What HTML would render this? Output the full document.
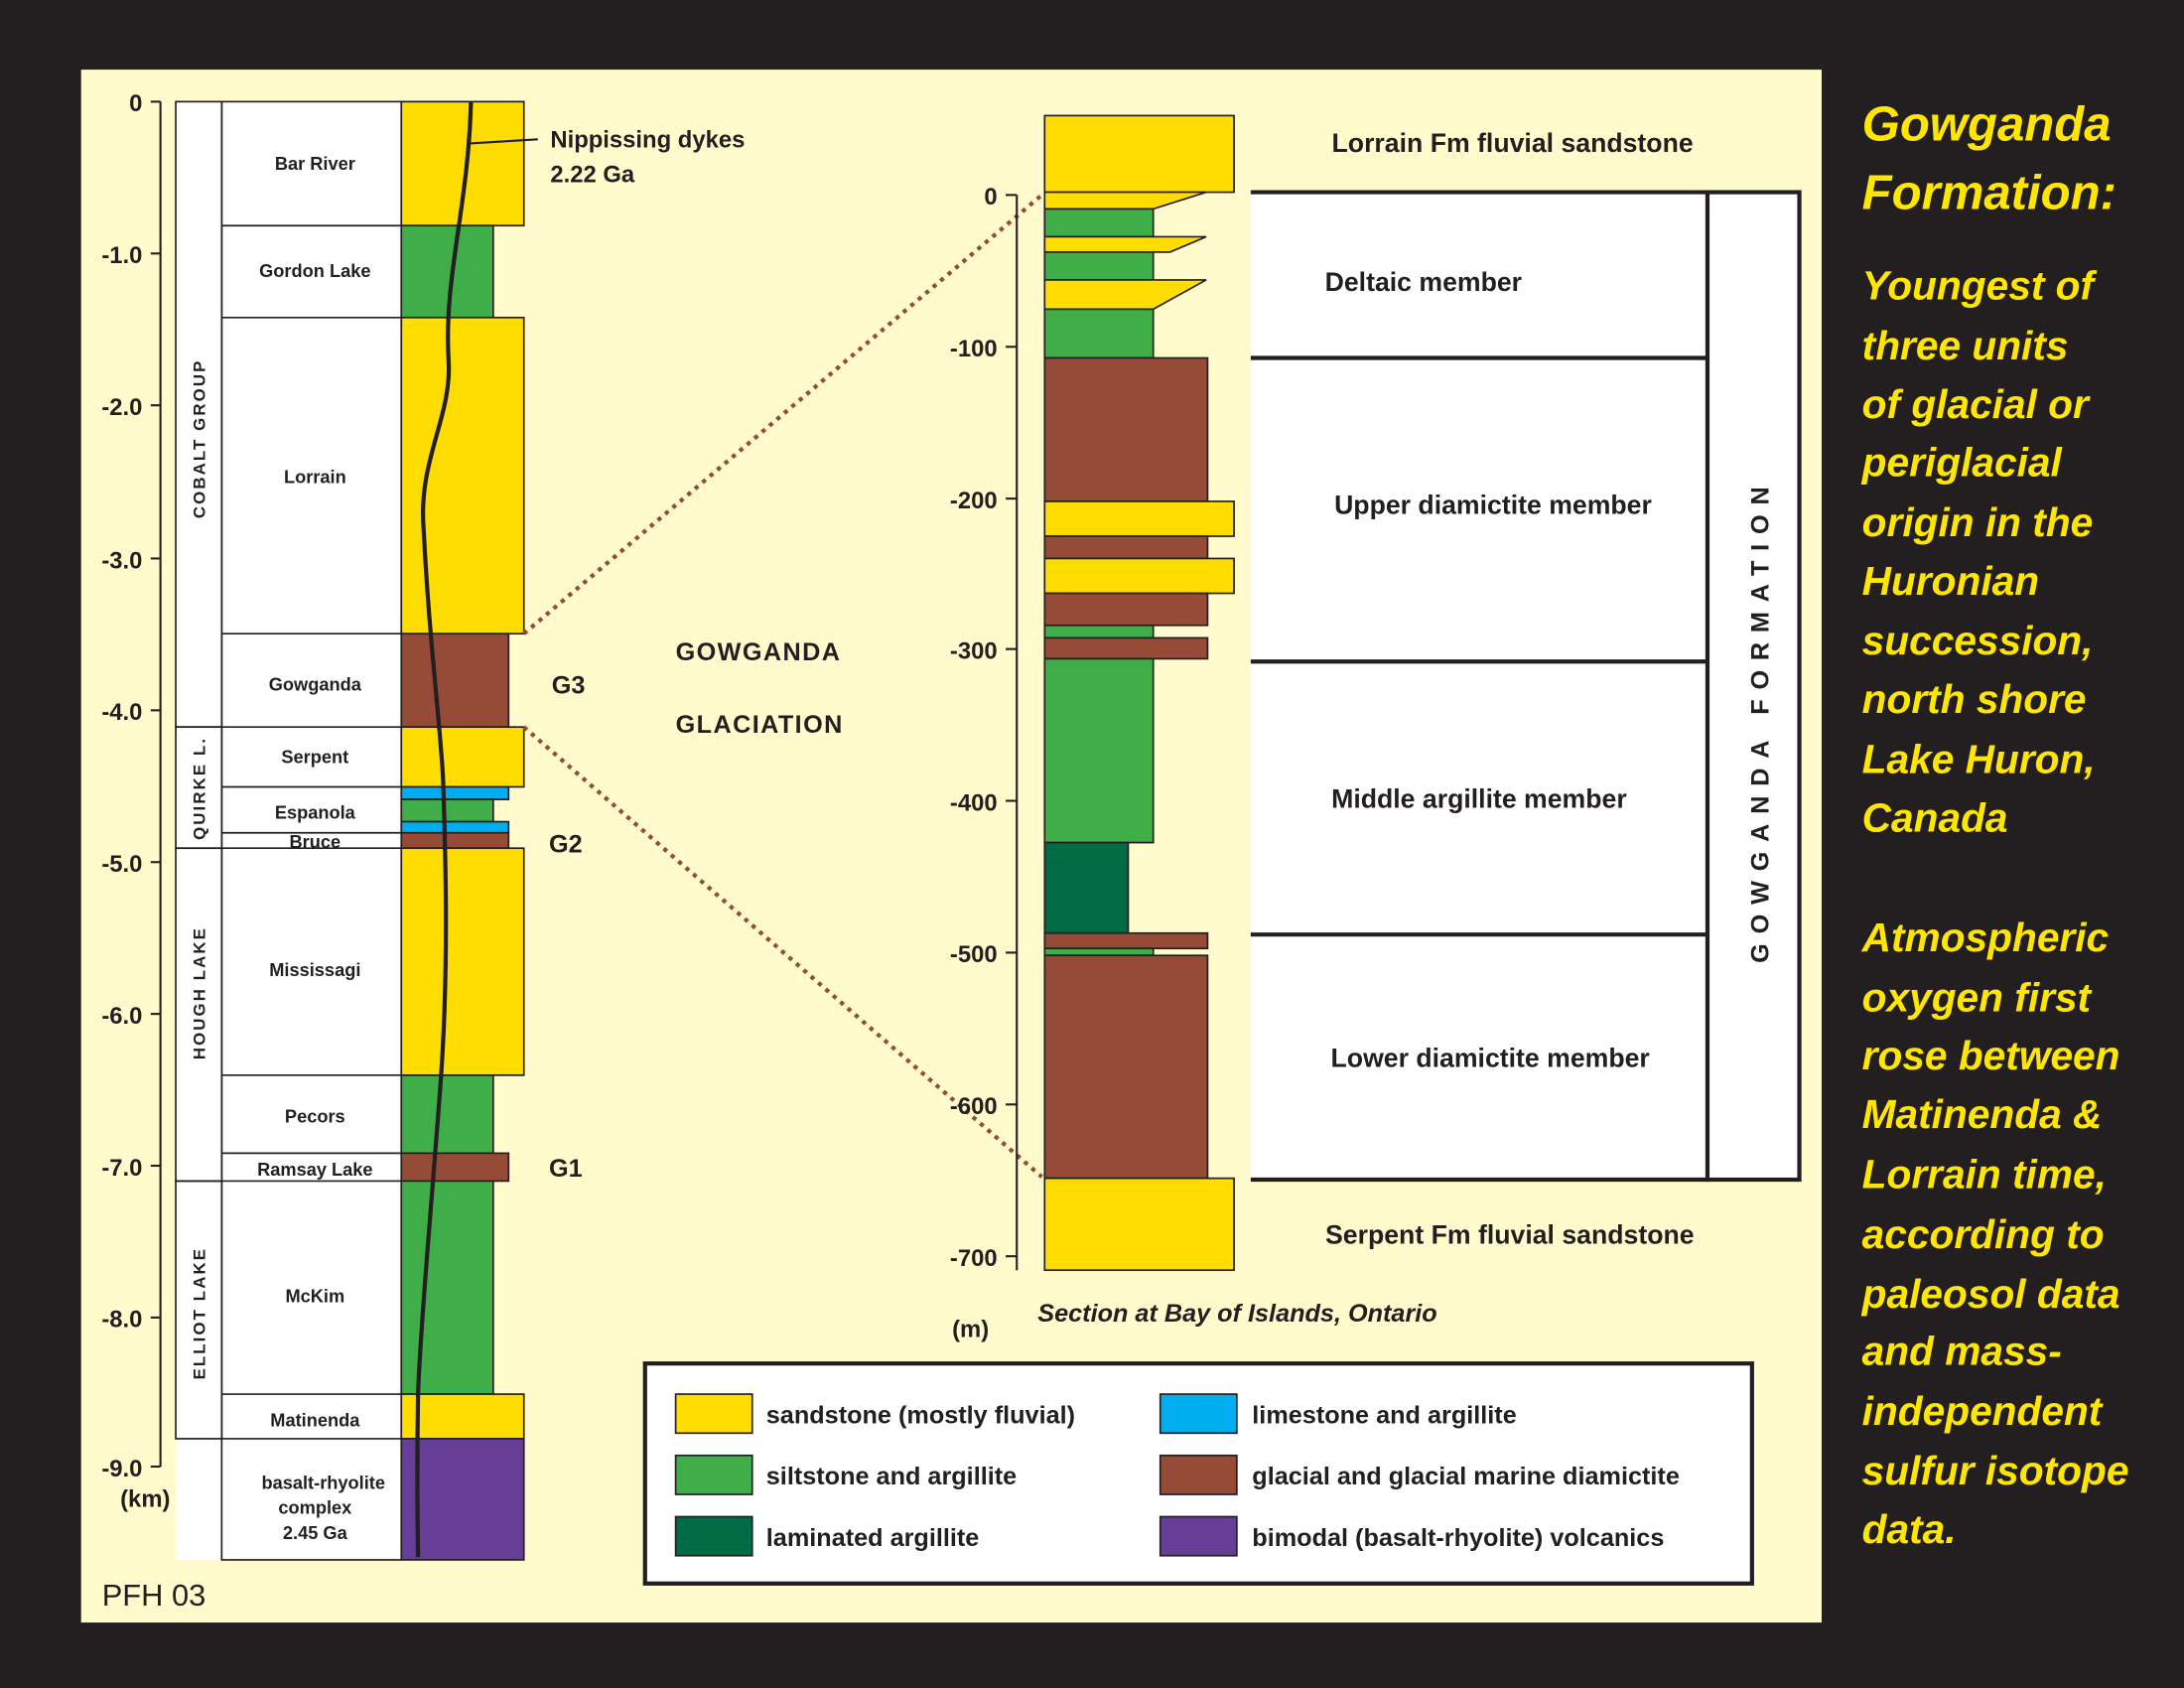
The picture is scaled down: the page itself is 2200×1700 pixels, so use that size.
<!DOCTYPE html>
<html><head><meta charset="utf-8"><style>
html,body{margin:0;padding:0;background:#231f20;}
svg{display:block;}
text{font-family:"Liberation Sans",sans-serif;font-weight:bold;fill:#231f20;}
.lbl{font-size:13px;text-anchor:middle;}
.ax{font-size:17px;text-anchor:end;}
.y{fill:#ffe600;font-style:italic;font-size:29px;}
.t{fill:#ffe600;font-style:italic;font-size:35px;font-weight:900;}
.m{font-size:19px;text-anchor:middle;}
</style></head><body>
<svg width="2200" height="1700" viewBox="0 0 1568 1212" xmlns="http://www.w3.org/2000/svg">
<rect width="1568" height="1212" fill="#231f20"/>
<rect x="58" y="50" width="1250" height="1115" fill="#fffbcc"/>

<g stroke="#231f20" stroke-width="1.5">
<line x1="115" y1="73" x2="115" y2="1053"/>
<line x1="108" y1="73" x2="115" y2="73"/><line x1="108" y1="182" x2="115" y2="182"/>
<line x1="108" y1="291" x2="115" y2="291"/><line x1="108" y1="401" x2="115" y2="401"/>
<line x1="108" y1="510" x2="115" y2="510"/><line x1="108" y1="619" x2="115" y2="619"/>
<line x1="108" y1="728" x2="115" y2="728"/><line x1="108" y1="837" x2="115" y2="837"/>
<line x1="108" y1="946" x2="115" y2="946"/><line x1="108" y1="1053" x2="115" y2="1053"/>
</g>
<text x="102" y="80" class="ax">0</text><text x="102" y="189" class="ax">-1.0</text>
<text x="102" y="298" class="ax">-2.0</text><text x="102" y="408" class="ax">-3.0</text>
<text x="102" y="517" class="ax">-4.0</text><text x="102" y="626" class="ax">-5.0</text>
<text x="102" y="735" class="ax">-6.0</text><text x="102" y="844" class="ax">-7.0</text>
<text x="102" y="953" class="ax">-8.0</text><text x="102" y="1060" class="ax">-9.0</text>
<text x="122" y="1082" class="ax">(km)</text>

<rect x="126" y="73" width="162" height="1047" fill="#fff"/>
<g fill="none" stroke="#231f20" stroke-width="1.2">
<rect x="126" y="73" width="33" height="449"/>
<rect x="126" y="522" width="33" height="87"/>
<rect x="126" y="609" width="33" height="239"/>
<rect x="126" y="848" width="33" height="185"/>
<rect x="159" y="73" width="129" height="1047"/>
<line x1="159" y1="162" x2="288" y2="162"/><line x1="159" y1="228" x2="288" y2="228"/>
<line x1="159" y1="455" x2="288" y2="455"/><line x1="159" y1="522" x2="288" y2="522"/>
<line x1="159" y1="565" x2="288" y2="565"/><line x1="159" y1="598" x2="288" y2="598"/>
<line x1="159" y1="609" x2="288" y2="609"/><line x1="159" y1="772" x2="288" y2="772"/>
<line x1="159" y1="828" x2="288" y2="828"/><line x1="159" y1="848" x2="288" y2="848"/>
<line x1="159" y1="1001" x2="288" y2="1001"/><line x1="159" y1="1033" x2="288" y2="1033"/>
</g>
<g font-size="12" letter-spacing="1.5" text-anchor="middle">
<text transform="translate(147,315) rotate(-90)" font-size="12">COBALT GROUP</text>
<text transform="translate(147,566) rotate(-90)" font-size="12">QUIRKE L.</text>
<text transform="translate(147,713) rotate(-90)" font-size="12">HOUGH LAKE</text>
<text transform="translate(147,943) rotate(-90)" font-size="12">ELLIOT LAKE</text>
</g>
<text x="226" y="122" class="lbl">Bar River</text>
<text x="226" y="199" class="lbl">Gordon Lake</text>
<text x="226" y="347" class="lbl">Lorrain</text>
<text x="226" y="496" class="lbl">Gowganda</text>
<text x="226" y="548" class="lbl">Serpent</text>
<text x="226" y="588" class="lbl">Espanola</text>
<text x="226" y="609" class="lbl">Bruce</text>
<text x="226" y="701" class="lbl">Mississagi</text>
<text x="226" y="806" class="lbl">Pecors</text>
<text x="226" y="844" class="lbl">Ramsay Lake</text>
<text x="226" y="935" class="lbl">McKim</text>
<text x="226" y="1024" class="lbl">Matinenda</text>
<text x="232" y="1069" class="lbl">basalt-rhyolite</text>
<text x="226" y="1087" class="lbl">complex</text>
<text x="226" y="1105" class="lbl">2.45 Ga</text>

<g stroke="#231f20" stroke-width="1.2">
<rect x="288" y="73" width="88" height="89" fill="#ffdd00"/>
<rect x="288" y="162" width="66" height="66" fill="#3fae49"/>
<rect x="288" y="228" width="88" height="227" fill="#ffdd00"/>
<rect x="288" y="455" width="77" height="67" fill="#964b37"/>
<rect x="288" y="522" width="88" height="43" fill="#ffdd00"/>
<rect x="288" y="565" width="77" height="9" fill="#00aeef"/>
<rect x="288" y="574" width="66" height="16" fill="#3fae49"/>
<rect x="288" y="590" width="77" height="8" fill="#00aeef"/>
<rect x="288" y="598" width="77" height="11" fill="#964b37"/>
<rect x="288" y="609" width="88" height="163" fill="#ffdd00"/>
<rect x="288" y="772" width="66" height="56" fill="#3fae49"/>
<rect x="288" y="828" width="77" height="20" fill="#964b37"/>
<rect x="288" y="848" width="66" height="153" fill="#3fae49"/>
<rect x="288" y="1001" width="88" height="32" fill="#ffdd00"/>
<rect x="288" y="1033" width="88" height="87" fill="#663e98"/>
</g>
<path d="M338,73 C336,150 318,200 322,260 C324,300 300,330 304,380 C308,460 316,520 318,560 C320,620 322,700 316,780 C310,860 302,950 300,1000 C299,1060 300,1118 300,1118" fill="none" stroke="#231f20" stroke-width="3"/>
<line x1="337" y1="103" x2="386" y2="100" stroke="#231f20" stroke-width="1.5"/>
<text x="395" y="106" font-size="17">Nippissing dykes</text>
<text x="395" y="131" font-size="17">2.22 Ga</text>
<text x="396" y="498" font-size="18">G3</text>
<text x="394" y="612" font-size="18">G2</text>
<text x="394" y="845" font-size="18">G1</text>
<text x="485" y="474" font-size="18" letter-spacing="1">GOWGANDA</text>
<text x="485" y="526" font-size="18" letter-spacing="1">GLACIATION</text>

<g stroke="#964b37" stroke-width="3" stroke-dasharray="3,4" fill="none">
<line x1="376" y1="455" x2="748" y2="140"/>
<line x1="376" y1="522" x2="748" y2="845"/>
</g>

<g stroke="#231f20" stroke-width="1.5">
<line x1="730" y1="140" x2="730" y2="912"/>
<line x1="722" y1="140" x2="730" y2="140"/><line x1="722" y1="249" x2="730" y2="249"/>
<line x1="722" y1="358" x2="730" y2="358"/><line x1="722" y1="466" x2="730" y2="466"/>
<line x1="722" y1="575" x2="730" y2="575"/><line x1="722" y1="684" x2="730" y2="684"/>
<line x1="722" y1="793" x2="730" y2="793"/><line x1="722" y1="902" x2="730" y2="902"/>
</g>
<text x="716" y="147" class="ax">0</text><text x="716" y="256" class="ax">-100</text>
<text x="716" y="365" class="ax">-200</text><text x="716" y="473" class="ax">-300</text>
<text x="716" y="582" class="ax">-400</text><text x="716" y="691" class="ax">-500</text>
<text x="716" y="800" class="ax">-600</text><text x="716" y="909" class="ax">-700</text>
<text x="710" y="960" class="ax">(m)</text>

<g stroke="#231f20" stroke-width="1.2">
<rect x="750" y="83" width="136" height="55" fill="#ffdd00"/>
<polygon points="750,138 866,138 828,150 750,150" fill="#ffdd00"/>
<rect x="750" y="150" width="78" height="20" fill="#3fae49"/>
<polygon points="750,170 866,170 840,181 750,181" fill="#ffdd00"/>
<rect x="750" y="181" width="78" height="20" fill="#3fae49"/>
<polygon points="750,201 866,201 828,222 750,222" fill="#ffdd00"/>
<rect x="750" y="222" width="78" height="35" fill="#3fae49"/>
<rect x="750" y="257" width="117" height="103" fill="#964b37"/>
<rect x="750" y="360" width="136" height="25" fill="#ffdd00"/>
<rect x="750" y="385" width="117" height="16" fill="#964b37"/>
<rect x="750" y="401" width="136" height="25" fill="#ffdd00"/>
<rect x="750" y="426" width="117" height="23" fill="#964b37"/>
<rect x="750" y="449" width="78" height="9" fill="#3fae49"/>
<rect x="750" y="458" width="117" height="15" fill="#964b37"/>
<rect x="750" y="473" width="78" height="132" fill="#3fae49"/>
<rect x="750" y="605" width="60" height="65" fill="#006b45"/>
<rect x="750" y="670" width="117" height="11" fill="#964b37"/>
<rect x="750" y="681" width="78" height="5" fill="#3fae49"/>
<rect x="750" y="686" width="117" height="160" fill="#964b37"/>
<rect x="750" y="846" width="136" height="66" fill="#ffdd00"/>
</g>

<rect x="898" y="138" width="328" height="709" fill="#fff"/>
<g stroke="#231f20" stroke-width="3">
<line x1="898" y1="138" x2="1226" y2="138"/><line x1="898" y1="257" x2="1226" y2="257"/>
<line x1="898" y1="475" x2="1226" y2="475"/><line x1="898" y1="671" x2="1226" y2="671"/>
<line x1="898" y1="847" x2="1226" y2="847"/>
<rect x="1226" y="138" width="66" height="709" fill="#fff"/>
</g>
<text transform="translate(1270,517) rotate(-90)" font-size="18" text-anchor="middle" letter-spacing="7">GOWGANDA FORMATION</text>
<text x="1086" y="109" class="m">Lorrain Fm fluvial sandstone</text>
<text x="1022" y="209" class="m">Deltaic member</text>
<text x="1072" y="369" class="m">Upper diamictite member</text>
<text x="1062" y="580" class="m">Middle argillite member</text>
<text x="1070" y="766" class="m">Lower diamictite member</text>
<text x="1084" y="893" class="m">Serpent Fm fluvial sandstone</text>
<text x="745" y="949" font-size="18" font-style="italic">Section at Bay of Islands, Ontario</text>

<rect x="463" y="979" width="795" height="158" fill="#fff" stroke="#231f20" stroke-width="3"/>
<g stroke="#231f20" stroke-width="1.2">
<rect x="485" y="1001" width="55" height="28" fill="#ffdd00"/>
<rect x="485" y="1045" width="55" height="28" fill="#3fae49"/>
<rect x="485" y="1089" width="55" height="28" fill="#006b45"/>
<rect x="833" y="1001" width="55" height="28" fill="#00aeef"/>
<rect x="833" y="1045" width="55" height="28" fill="#964b37"/>
<rect x="833" y="1089" width="55" height="28" fill="#663e98"/>
</g>
<text x="550" y="1022" font-size="18">sandstone (mostly fluvial)</text>
<text x="550" y="1066" font-size="18">siltstone and argillite</text>
<text x="550" y="1110" font-size="18">laminated argillite</text>
<text x="899" y="1022" font-size="18">limestone and argillite</text>
<text x="899" y="1066" font-size="18">glacial and glacial marine diamictite</text>
<text x="899" y="1110" font-size="18">bimodal (basalt-rhyolite) volcanics</text>

<text x="73" y="1153" font-size="22" style="font-weight:normal">PFH 03</text>

<text x="1337" y="101" class="t">Gowganda</text>
<text x="1337" y="150" class="t">Formation:</text>
<text x="1337" y="215" class="y">Youngest of</text>
<text x="1337" y="258" class="y">three units</text>
<text x="1337" y="300" class="y">of glacial or</text>
<text x="1337" y="342" class="y">periglacial</text>
<text x="1337" y="385" class="y">origin in the</text>
<text x="1337" y="427" class="y">Huronian</text>
<text x="1337" y="470" class="y">succession,</text>
<text x="1337" y="512" class="y">north shore</text>
<text x="1337" y="555" class="y">Lake Huron,</text>
<text x="1337" y="597" class="y">Canada</text>
<text x="1337" y="683" class="y">Atmospheric</text>
<text x="1337" y="726" class="y">oxygen first</text>
<text x="1337" y="768" class="y">rose between</text>
<text x="1337" y="810" class="y">Matinenda &amp;</text>
<text x="1337" y="853" class="y">Lorrain time,</text>
<text x="1337" y="896" class="y">according to</text>
<text x="1337" y="939" class="y">paleosol data</text>
<text x="1337" y="980" class="y">and mass-</text>
<text x="1337" y="1023" class="y">independent</text>
<text x="1337" y="1066" class="y">sulfur isotope</text>
<text x="1337" y="1108" class="y">data.</text>
</svg>
</body></html>
